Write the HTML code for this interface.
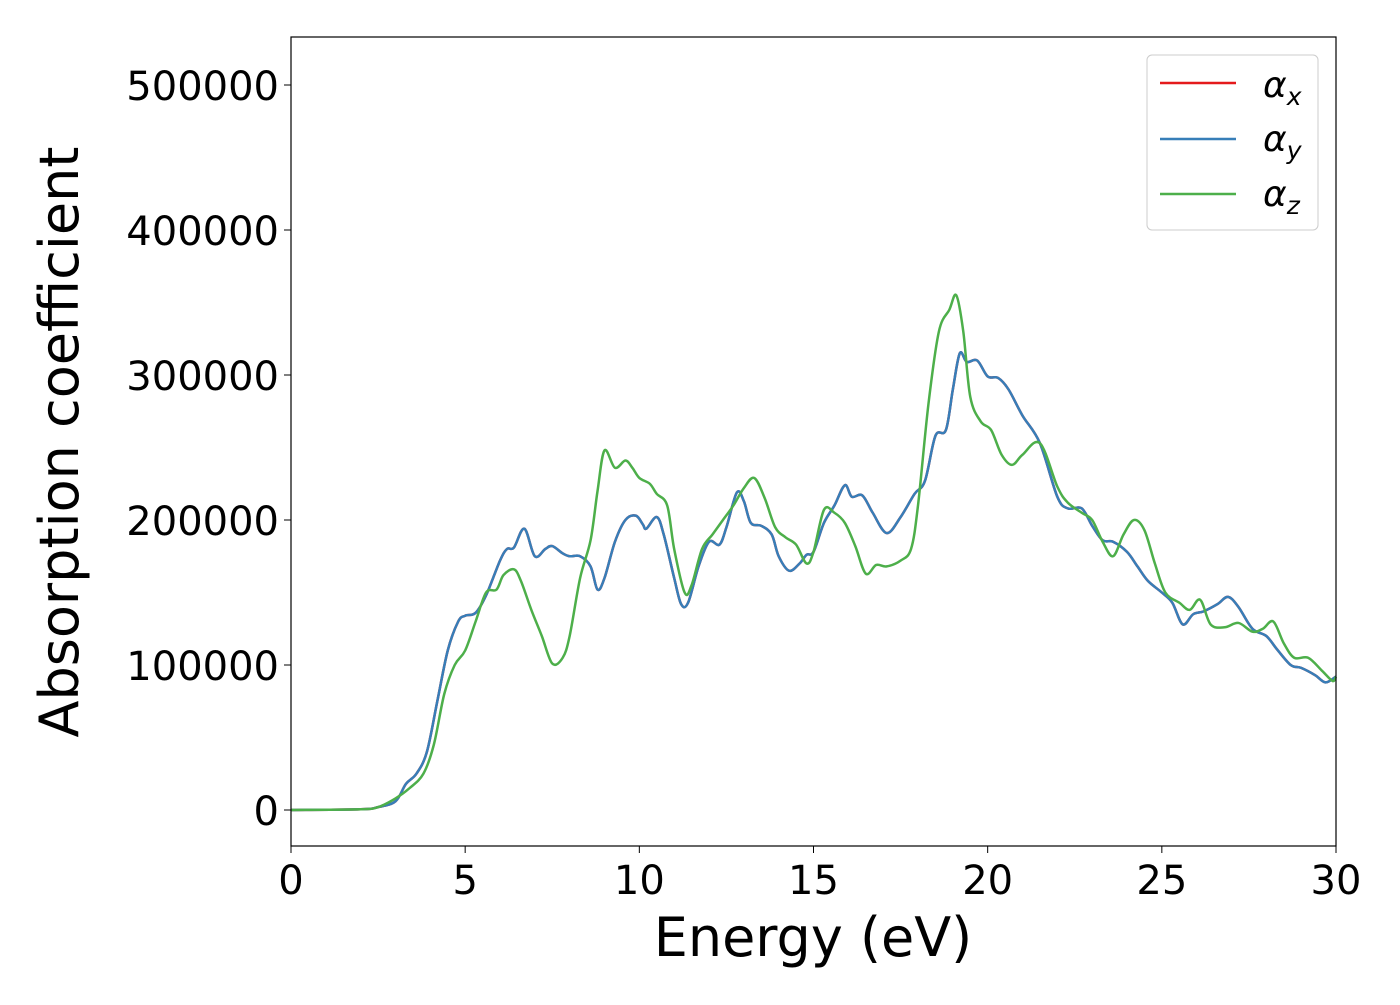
<!DOCTYPE html>
<html><head><meta charset="utf-8"><style>
body{margin:0;background:#fff;}
svg text{font-family:"DejaVu Sans","Liberation Sans",sans-serif;fill:#000;}
</style></head><body>
<svg id="chart" width="1400" height="1000" viewBox="0 0 1400 1000" xmlns="http://www.w3.org/2000/svg">
<rect width="1400" height="1000" fill="#fff"/>
<g id="lines"></g>
<rect x="291" y="37" width="1045" height="809" fill="none" stroke="#000" stroke-width="1.2"/>
<g id="xticks"></g>
<g id="yticks"></g>
<text x="813" y="956" font-size="54" text-anchor="middle">Energy (eV)</text>
<text transform="translate(78,442) rotate(-90)" font-size="54" text-anchor="middle">Absorption coefficient</text>
<g>
<rect x="1147" y="55" width="171" height="175" rx="5" fill="#fff" stroke="#ccc" stroke-width="1"/>
<g><line x1="1160" y1="83" x2="1236" y2="83" stroke="#e41a1c" stroke-width="2.5"/><text x="1263" y="97" font-size="36" font-style="italic">α<tspan font-size="25" dy="8">x</tspan></text></g>
<g><line x1="1160" y1="139" x2="1236" y2="139" stroke="#377eb8" stroke-width="2.5"/><text x="1263" y="151" font-size="36" font-style="italic">α<tspan font-size="25" dy="8">y</tspan></text></g>
<g><line x1="1160" y1="194" x2="1236" y2="194" stroke="#4daf4a" stroke-width="2.5"/><text x="1263" y="206" font-size="36" font-style="italic">α<tspan font-size="25" dy="8">z</tspan></text></g>
</g>
</svg>
<script>
const energyXY=[0,2,2.5,3,3.3,3.6,3.9,4.2,4.5,4.8,5,5.3,5.6,6,6.2,6.4,6.7,7,7.3,7.5,7.8,8,8.3,8.6,8.8,9,9.3,9.6,9.9,10.1,10.2,10.5,10.7,11,11.2,11.4,11.7,12,12.3,12.5,12.8,13,13.2,13.5,13.8,14,14.3,14.6,14.8,15,15.3,15.6,15.9,16.1,16.4,16.7,17.1,17.5,17.9,18.2,18.5,18.8,19,19.2,19.4,19.7,20,20.3,20.6,21,21.5,22,22.3,22.7,23,23.3,23.6,24,24.3,24.6,25,25.3,25.6,25.9,26.2,26.6,26.9,27.2,27.6,28,28.3,28.7,29,29.4,29.7,30];
const alphaXY=[0,500,2000,6000,18000,25000,40000,75000,110000,130000,134000,136000,148000,172000,180000,181000,194000,175000,180000,182000,177000,175000,175000,168000,152000,160000,185000,200000,203000,197000,194000,202000,190000,160000,142000,143000,168000,185000,183000,195000,219000,213000,198000,196000,190000,175000,165000,170000,176000,178000,198000,210000,224000,216000,217000,205000,191000,202000,218000,227000,258000,262000,290000,315000,309000,310000,299000,298000,290000,272000,253000,216000,208000,208000,196000,186000,185000,178000,168000,158000,150000,143000,128000,135000,137000,142000,147000,140000,125000,120000,111000,100000,98000,93000,88000,92000];
const energyZ=[0,2,2.5,3,3.4,3.8,4.1,4.4,4.7,5,5.3,5.6,5.9,6.1,6.4,6.6,6.9,7.2,7.5,7.8,8,8.3,8.6,8.8,9,9.3,9.6,9.8,10,10.3,10.5,10.8,11,11.3,11.5,11.8,12.1,12.4,12.7,13,13.3,13.6,13.9,14.2,14.5,14.8,15,15.3,15.6,15.9,16.2,16.5,16.8,17.1,17.5,17.8,18,18.3,18.6,18.9,19.1,19.3,19.5,19.8,20.1,20.4,20.7,21,21.5,22,22.3,22.7,23,23.3,23.6,23.9,24.2,24.5,24.8,25.1,25.5,25.8,26.1,26.4,26.8,27.2,27.6,27.9,28.2,28.5,28.8,29.2,29.6,29.9,30];
const alphaZ=[0,500,2000,8000,15000,25000,45000,80000,100000,110000,130000,150000,152000,162000,166000,158000,138000,120000,101000,105000,120000,160000,186000,220000,248000,236000,241000,236000,229000,225000,218000,210000,180000,150000,155000,180000,190000,200000,210000,222000,229000,215000,195000,188000,183000,170000,178000,207000,205000,198000,182000,163000,169000,168000,172000,180000,210000,280000,330000,345000,355000,330000,285000,268000,262000,245000,238000,245000,253000,223000,212000,205000,200000,185000,175000,190000,200000,193000,170000,150000,143000,138000,145000,128000,126000,129000,123000,125000,130000,115000,105000,105000,96000,89000,92000];
const xTicks=[0,5,10,15,20,25,30];
const yTicks=[0,100000,200000,300000,400000,500000];
const NS="http://www.w3.org/2000/svg";
const L=291,R=1336,T=37,B=846,xMin=0,xMax=30,yMin=-24828,yMax=533103;
const xs=v=>L+(v-xMin)/(xMax-xMin)*(R-L);
const ys=v=>B-(v-yMin)/(yMax-yMin)*(B-T);
// smooth path via Catmull-Rom
function pathD(xa,ya){const p=xa.map((x,i)=>[xs(x),ys(ya[i])]);let d="M"+p[0][0]+","+p[0][1];
for(let i=0;i<p.length-1;i++){const p0=p[Math.max(i-1,0)],p1=p[i],p2=p[i+1],p3=p[Math.min(i+2,p.length-1)];
d+=" C"+(p1[0]+(p2[0]-p0[0])/6)+","+(p1[1]+(p2[1]-p0[1])/6)+" "+(p2[0]-(p3[0]-p1[0])/6)+","+(p2[1]-(p3[1]-p1[1])/6)+" "+p2[0]+","+p2[1];}return d;}
const g=document.getElementById("lines");
function addLine(xa,ya,color,name){const e=document.createElementNS(NS,"path");
e.setAttribute("d",pathD(xa,ya));e.setAttribute("fill","none");e.setAttribute("stroke",color);e.setAttribute("stroke-width","2.5");


g.appendChild(e);}
addLine(energyXY,alphaXY,"#e41a1c","series-alpha-x");
addLine(energyXY,alphaXY,"#377eb8","series-alpha-y");
addLine(energyZ,alphaZ,"#4daf4a","series-alpha-z");
const gx=document.getElementById("xticks");
xTicks.forEach(v=>{const l=document.createElementNS(NS,"line");l.setAttribute("x1",xs(v));l.setAttribute("x2",xs(v));l.setAttribute("y1",B);l.setAttribute("y2",B+7);l.setAttribute("stroke","#000");


gx.appendChild(l);
const t=document.createElementNS(NS,"text");t.setAttribute("x",xs(v));t.setAttribute("y",B+48);t.setAttribute("font-size","40");t.setAttribute("text-anchor","middle");t.textContent=v;


gx.appendChild(t);});
const gy=document.getElementById("yticks");
yTicks.forEach(v=>{const l=document.createElementNS(NS,"line");l.setAttribute("x1",L-7);l.setAttribute("x2",L);l.setAttribute("y1",ys(v));l.setAttribute("y2",ys(v));l.setAttribute("stroke","#000");


gy.appendChild(l);
const t=document.createElementNS(NS,"text");t.setAttribute("x",L-12);t.setAttribute("y",ys(v)+15);t.setAttribute("font-size","40");t.setAttribute("text-anchor","end");t.textContent=v;


gy.appendChild(t);});
</script>
</body></html>
